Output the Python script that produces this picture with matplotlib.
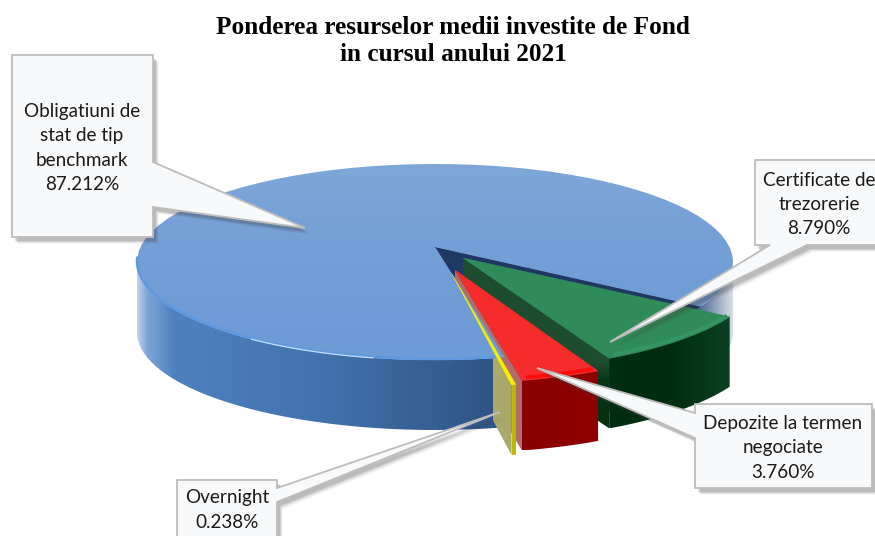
import matplotlib
matplotlib.use('Agg')
import matplotlib.pyplot as plt
import numpy as np
from matplotlib.colors import LinearSegmentedColormap
from matplotlib.patches import Polygon, Rectangle

# slices, clockwise from the green one
labels = ['Certificate de\ntrezorerie\n8.790%',
          'Depozite la termen\nnegociate\n3.760%',
          'Overnight\n0.238%',
          'Obligatiuni de\nstat de tip\nbenchmark\n87.212%']
values = [8.790, 3.760, 0.238, 87.212]
title = 'Ponderea resurselor medii investite de Fond\nin cursul anului 2021'

# pie geometry in pixels
cx, cy, rx, ry = 435, 262, 298, 98
apex_drop = 15
depth = 70
start = 116.5
# gap before each slice (deg), perspective stretch, and where its tip was pulled out to
gaps = [0, 0.7, 0.6]
stretch = [1.078, 1.16, 1.0]
tips = [(463, 258), (455, 270), (452, 274)]
cut0, cut1 = 117, 166.5


def arc(x0, y0, t0, t1, drop=0):
    t = np.radians(np.linspace(t0, t1, 80))
    return np.column_stack([x0 + rx * np.sin(t), y0 - ry * np.cos(t) + drop])


def grad_fill(ax, pts, stops, z, vertical=False):
    pts = np.asarray(pts)
    cmap = LinearSegmentedColormap.from_list('g', stops)
    ramp = np.linspace(0, 1, 256)
    ramp = ramp[:, None] if vertical else ramp[None, :]
    ext = [pts[:, 0].min(), pts[:, 0].max(), pts[:, 1].max(), pts[:, 1].min()]
    im = ax.imshow(ramp, cmap=cmap, extent=ext, aspect='auto', zorder=z,
                   interpolation='bilinear', origin='upper')
    im.set_clip_path(Polygon(pts, closed=True, transform=ax.transData))
    return im


def callout(ax, box, base, tip, text, text_x, text_y):
    left, top, right, bottom = box
    side, b0, b1 = base
    if side == 'left':
        pts = [(left, top), (right, top), (right, bottom), (left, bottom),
               (left, b1), tip, (left, b0)]
    elif side == 'right':
        pts = [(left, top), (right, top), (right, b0), tip, (right, b1),
               (right, bottom), (left, bottom)]
    else:
        pts = [(left, top), (right, top), (right, bottom), (b1, bottom), tip,
               (b0, bottom), (left, bottom)]
    pts = np.array(pts, float)
    # soft shadow out of a few stacked offset copies
    for off, a in [(7, .05), (6, .08), (5, .12), (4, .15)]:
        ax.add_patch(Polygon(pts + [off - 1, off], closed=True, fc='#404040',
                             ec='none', alpha=a, zorder=20))
    ax.add_patch(Polygon(pts, closed=True, fc='#f8f9fb', ec='#bdbdbd', lw=1.3,
                         zorder=21, joinstyle='miter'))
    ax.text(text_x, text_y, text, ha='center', va='center', fontsize=13.6,
            family='Lato', color='#1a1a1a', linespacing=1.5, zorder=22)


fig = plt.figure(figsize=(8.75, 5.36), dpi=100)
ax = fig.add_axes([0, 0, 1, 1])

spans = [v / 100 * 360 for v in values]
ranges = []
t = start
for i in range(3):
    t += gaps[i]
    ranges.append((t, t + spans[i] * stretch[i]))
    t += spans[i] * stretch[i]
blue_tip = (cx, cy - apex_drop)

# blue side
top_half = arc(cx, cy, 90, 270)
low_half = arc(cx, cy, 270, 90, depth)
grad_fill(ax, np.vstack([top_half, low_half]),
          [(0, '#b9cfe8'), (.015, '#7fa6d8'), (.06, '#4f80c0'), (.3, '#4373ae'),
           (.6, '#2f5485'), (.93, '#2b4a78'), (.97, '#8c9db8'), (1, '#d5dbe5')], 1)

# the hole the slices came out of
ax.add_patch(Polygon(np.vstack([[blue_tip], arc(cx, cy, cut0, cut1)]), closed=True,
                     fc='#1f3864', ec='#1f3864', lw=.5, zorder=2))


def cut_wall(i):
    x0, y0 = tips[i]
    corner = arc(x0, y0 + apex_drop, ranges[i][1], ranges[i][1])[0]
    return [(x0, y0), corner, corner + [0, depth], (x0, y0 + depth)]


# cut walls go under the blue top so it hides their inner part
grad_fill(ax, cut_wall(0), [(0, '#1d4d2e'), (.62, '#1d4d2e'), (.72, '#05361a'),
                            (1, '#02300f')], 3, vertical=True)
red_wall = Polygon(cut_wall(1), closed=True, fc='#b06b6b', ec='none', zorder=4)
ax.add_patch(red_wall)
red_wall.set_clip_path(Polygon([(440, 240), (620, 240), (620, 500), (493, 500),
                                (493, 357), (440, 357)], closed=True,
                               transform=ax.transData))
# only the front of the overnight wall shows past the blue rim
yellow_wall = Polygon(cut_wall(2), closed=True, fc='#aaa86c', ec='none', zorder=5)
ax.add_patch(yellow_wall)
yellow_wall.set_clip_path(Rectangle((493, 300), 60, 200, transform=ax.transData))

# blue top
blue_arc = arc(cx, cy, cut1, cut0 + 360)
grad_fill(ax, np.vstack([[blue_tip], blue_arc]),
          [(0, '#7ea7d8'), (.5, '#739ed6'), (1, '#6d9bd6')], 7, vertical=True)
rim = arc(cx, cy - 1, 168, 272)
ax.plot(rim[:, 0], rim[:, 1], color='#5e99e0', lw=1.8, zorder=8,
        solid_capstyle='round')
glint = arc(cx, cy, 192, 218)
ax.plot(glint[:, 0], glint[:, 1], color='#c4defa', lw=.9, zorder=8)

# slices that were pulled out
side_stops = [[(0, '#002c10'), (.5, '#002c0e'), (1, '#0d4022')],
              [(0, '#8a0000'), (1, '#8f0000')],
              [(0, '#c2ba00'), (1, '#b8b000')]]
top_colors = ['#2f8c58', '#f62c2c', '#f4f000']
edge_colors = ['#379563', '#ff0c0c', '#f4f000']
for i, (t0, t1) in enumerate(ranges):
    x0, y0 = tips[i]
    c = (x0, y0 + apex_drop)
    outer = arc(c[0], c[1], t0, t1)
    grad_fill(ax, np.vstack([outer, arc(c[0], c[1], t1, t0, depth)]),
              side_stops[i], 9 + i)
    ax.add_patch(Polygon(np.vstack([[(x0, y0)], outer]), closed=True,
                         fc=top_colors[i], ec=top_colors[i], lw=.3, zorder=10 + i))
    if i < 2:
        band = arc(c[0], c[1] - 3, t0 + 1.2, t1 - .8)
        ax.plot(band[:, 0], band[:, 1], color=edge_colors[i], lw=2.6, zorder=10 + i,
                solid_capstyle='butt')

# callouts, in the same order as labels
callout(ax, (755, 160, 895, 245), ('bottom', 770, 807), (610, 342), labels[0], 819, 204)
callout(ax, (695, 404, 872, 488), ('left', 413, 438), (537, 368), labels[1], 783, 448)
callout(ax, (177, 480, 277, 550), ('right', 488, 502), (500, 412), labels[2], 227, 510)
callout(ax, (12, 55, 153, 237), ('right', 162, 207), (305, 228), labels[3], 82, 148)

ax.text(453, 41, title, ha='center', va='center', fontsize=18.2, weight='bold',
        family='Liberation Serif', color='black', linespacing=1.2, zorder=30)

ax.set_xlim(0, 875)
ax.set_ylim(536, 0)
ax.axis('off')
fig.savefig('out.png', dpi=100)
